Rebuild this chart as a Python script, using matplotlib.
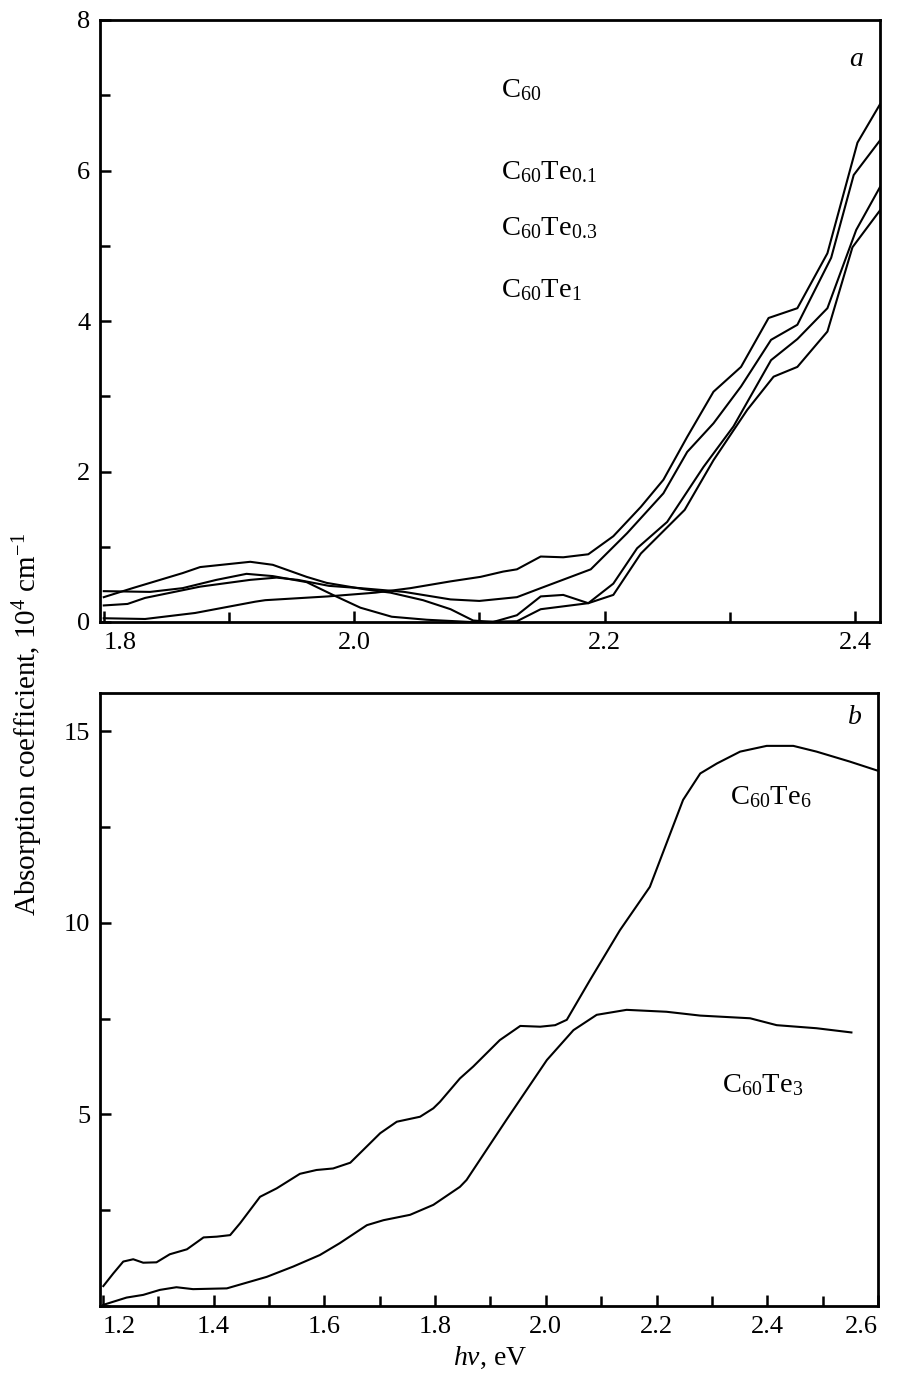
import numpy as np
import matplotlib
matplotlib.use("Agg")
import matplotlib.pyplot as plt
from matplotlib.ticker import MultipleLocator

plt.rcParams["font.family"] = "Liberation Serif"
plt.rcParams["mathtext.fontset"] = "custom"
plt.rcParams["mathtext.rm"] = "Liberation Serif"
plt.rcParams["mathtext.it"] = "Liberation Serif:italic"

# --- panel a: four films, hv (eV) vs alpha (10^4 cm^-1) ---
x_c60 = [1.800, 1.833, 1.873, 1.921, 1.929, 1.979, 2.017, 2.045, 2.077, 2.101, 2.119,
         2.130, 2.149, 2.167, 2.187, 2.207, 2.229, 2.247, 2.266, 2.287, 2.309, 2.331,
         2.354, 2.378, 2.402, 2.420]
y_c60 = [0.05, 0.04, 0.12, 0.27, 0.29, 0.34, 0.39, 0.45, 0.54, 0.60, 0.67,
         0.70, 0.87, 0.86, 0.90, 1.14, 1.53, 1.89, 2.46, 3.06, 3.39, 4.04,
         4.17, 4.90, 6.37, 6.88]

x_te01 = [1.800, 1.819, 1.833, 1.877, 1.917, 1.938, 1.955, 1.980, 2.005, 2.040, 2.077,
          2.100, 2.130, 2.149, 2.189, 2.218, 2.247, 2.266, 2.287, 2.309, 2.333, 2.354,
          2.381, 2.399, 2.420]
y_te01 = [0.22, 0.24, 0.32, 0.47, 0.56, 0.59, 0.56, 0.48, 0.45, 0.40, 0.30,
          0.28, 0.33, 0.45, 0.70, 1.18, 1.71, 2.26, 2.64, 3.13, 3.75, 3.95,
          4.84, 5.94, 6.40]

x_te03 = [1.800, 1.823, 1.863, 1.877, 1.917, 1.935, 1.962, 1.978, 2.010, 2.029, 2.055,
          2.077, 2.095, 2.111, 2.130, 2.149, 2.167, 2.187, 2.207, 2.226, 2.250, 2.279,
          2.303, 2.333, 2.354, 2.378, 2.401, 2.420]
y_te03 = [0.33, 0.45, 0.65, 0.73, 0.80, 0.76, 0.60, 0.52, 0.43, 0.39, 0.29,
          0.17, 0.02, 0.00, 0.09, 0.34, 0.36, 0.25, 0.51, 0.98, 1.33, 2.06,
          2.60, 3.48, 3.76, 4.17, 5.21, 5.78]

x_te1 = [1.800, 1.837, 1.863, 1.890, 1.914, 1.935, 1.962, 1.983, 2.005, 2.030, 2.058,
         2.093, 2.130, 2.149, 2.187, 2.207, 2.229, 2.264, 2.287, 2.314, 2.335, 2.354,
         2.378, 2.398, 2.420]
y_te1 = [0.41, 0.40, 0.45, 0.56, 0.64, 0.61, 0.53, 0.36, 0.19, 0.07, 0.03,
         0.00, 0.01, 0.17, 0.25, 0.36, 0.91, 1.49, 2.15, 2.82, 3.26, 3.39,
         3.86, 4.98, 5.47]

labels_a = ["C$_{60}$", "C$_{60}$Te$_{0.1}$", "C$_{60}$Te$_{0.3}$", "C$_{60}$Te$_{1}$"]

# --- panel b ---
x_te6 = [1.201, 1.219, 1.237, 1.255, 1.273, 1.297, 1.321, 1.352, 1.382, 1.406, 1.430,
         1.448, 1.484, 1.514, 1.556, 1.586, 1.616, 1.647, 1.701, 1.731, 1.773, 1.797,
         1.809, 1.845, 1.869, 1.917, 1.954, 1.990, 2.017, 2.038, 2.080, 2.134, 2.188,
         2.248, 2.279, 2.309, 2.351, 2.399, 2.447, 2.489, 2.549, 2.600]
y_te6 = [0.52, 0.85, 1.16, 1.22, 1.13, 1.14, 1.35, 1.48, 1.79, 1.81, 1.85,
         2.16, 2.85, 3.07, 3.45, 3.55, 3.59, 3.74, 4.51, 4.81, 4.94, 5.16,
         5.33, 5.94, 6.25, 6.94, 7.31, 7.29, 7.33, 7.47, 8.51, 9.81, 10.94,
         13.21, 13.90, 14.16, 14.47, 14.62, 14.62, 14.47, 14.21, 13.97]

x_te3 = [1.201, 1.243, 1.273, 1.303, 1.333, 1.363, 1.424, 1.496, 1.544, 1.592, 1.628,
         1.677, 1.707, 1.755, 1.797, 1.845, 1.857, 1.929, 2.002, 2.050, 2.092, 2.146,
         2.218, 2.279, 2.369, 2.417, 2.489, 2.552]
y_te3 = [0.03, 0.22, 0.29, 0.42, 0.49, 0.44, 0.46, 0.76, 1.03, 1.33, 1.64,
         2.11, 2.24, 2.38, 2.64, 3.11, 3.29, 4.86, 6.42, 7.20, 7.60, 7.73,
         7.68, 7.58, 7.51, 7.33, 7.25, 7.14]

W, H = 898, 1376
fig = plt.figure(figsize=(W / 100, H / 100), dpi=100)

def box(l, t, r, b):
    return [l / W, 1 - b / H, (r - l) / W, (b - t) / H]

ax1 = fig.add_axes(box(100, 20, 880, 622))
ax2 = fig.add_axes(box(100, 693, 878, 1306))

lw = 1.5
for xs, ys in [(x_c60, y_c60), (x_te01, y_te01), (x_te03, y_te03), (x_te1, y_te1)]:
    ax1.plot(xs, ys, color="black", lw=lw)
ax2.plot(x_te6, y_te6, color="black", lw=lw)
ax2.plot(x_te3, y_te3, color="black", lw=lw)

ax1.set_xlim(1.797, 2.42)
ax1.set_ylim(0, 8)
ax1.set_xticks([1.8, 2.0, 2.2, 2.4])
ax1.set_xticklabels(["1.8", "2.0", "2.2", "2.4"])
ax1.set_yticks([0, 2, 4, 6, 8])
ax1.xaxis.set_minor_locator(MultipleLocator(0.1))
ax1.yaxis.set_minor_locator(MultipleLocator(1))

ax2.set_xlim(1.195, 2.6)
ax2.set_ylim(0, 16)
xt = [1.2, 1.4, 1.6, 1.8, 2.0, 2.2, 2.4, 2.6]
ax2.set_xticks(xt)
ax2.set_xticklabels([f"{v:.1f}" for v in xt])
ax2.set_yticks([5, 10, 15])
ax2.xaxis.set_minor_locator(MultipleLocator(0.1))
ax2.yaxis.set_minor_locator(MultipleLocator(2.5))

for ax in (ax1, ax2):
    for s in ax.spines.values():
        s.set_linewidth(2.0)
    ax.tick_params(which="both", direction="in", top=False, right=False,
                   labelsize=19, width=1.8, pad=7)
    ax.tick_params(which="major", length=8)
    ax.tick_params(which="minor", length=7)

ax1.get_xticklabels()[0].set_ha("left")
ax2.get_xticklabels()[0].set_ha("left")
ax2.get_xticklabels()[-1].set_ha("right")

# legend-like labels in panel a
for lab, yy in zip(labels_a, [7.07, 5.98, 5.24, 4.41]):
    ax1.text(2.117, yy, lab, fontsize=20.5, va="center", ha="left")
ax1.text(2.401, 7.47, "a", fontsize=20, style="italic", ha="center", va="center")

ax2.text(2.333, 13.29, "C$_{60}$Te$_{6}$", fontsize=20.5, va="center", ha="left")
ax2.text(2.318, 5.77, "C$_{60}$Te$_{3}$", fontsize=20.5, va="center", ha="left")
ax2.text(2.559, 15.35, "b", fontsize=20, style="italic", ha="center", va="center")

fig.text(28 / W, 1 - 724 / H, "Absorption coefficient, 10$^4$ cm$^{-1}$",
         rotation=90, fontsize=21, ha="center", va="center")
fig.text(490 / W, 1 - 1358 / H, "$h\\nu$, eV", fontsize=20, ha="center", va="center")

fig.savefig("out.png", dpi=100)
